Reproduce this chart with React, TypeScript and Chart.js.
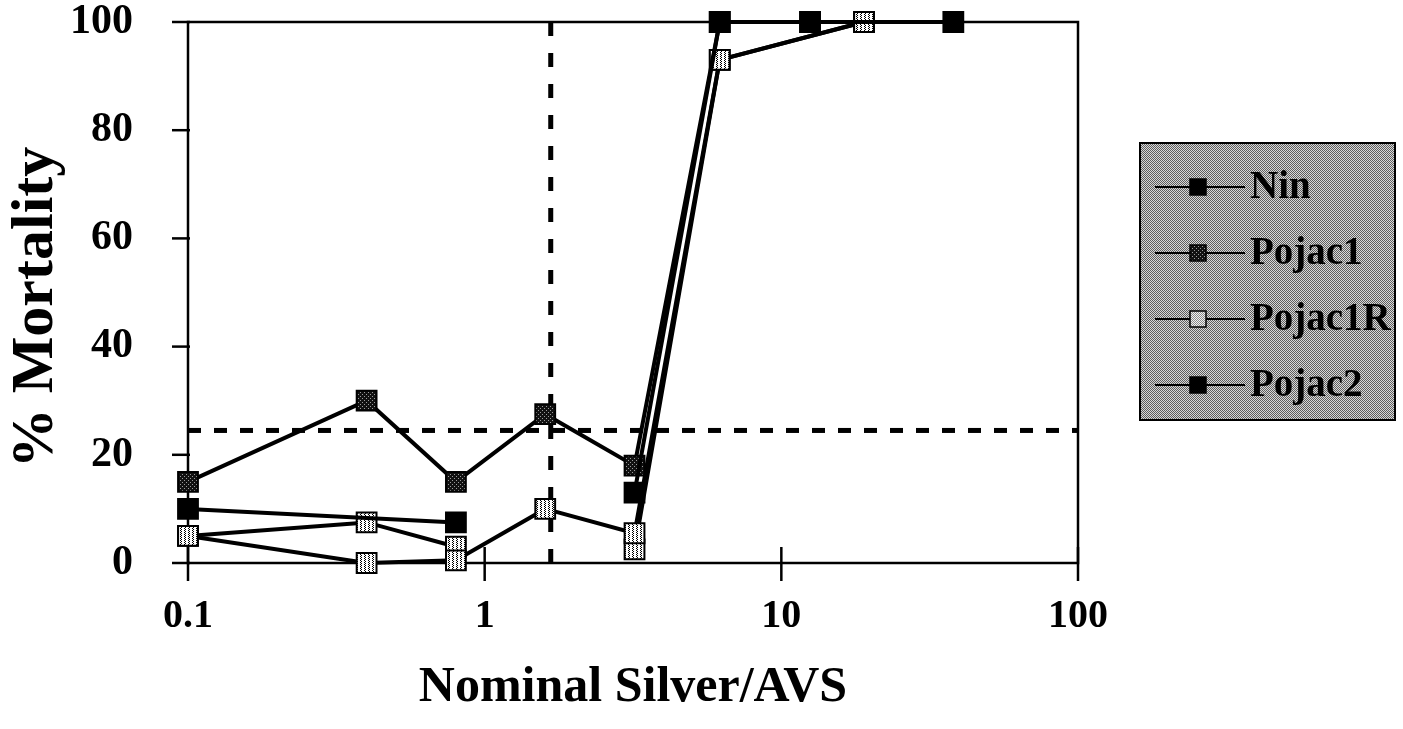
import React, { useEffect, useRef } from 'react';
import { Chart, registerables } from 'chart.js';

Chart.register(...registerables);

// ---- data ----
const seriesNames = ['Nin', 'Pojac1', 'Pojac1R', 'Pojac2'];

const ninConc = [0.1, 0.8, 1.6, 3.2, 6.2, 12.5, 38];
const ninMort = [10, 7.5, null, 13, 100, 100, 100];

const pojac1Conc = [0.1, 0.4, 0.8, 1.6, 3.2, 6.2, 12.5];
const pojac1Mort = [15, 30, 15, 27.5, 18, 100, 100];

const pojac1RConc = [0.1, 0.4, 0.8, 1.6, 3.2, 6.2, 19];
const pojac1RMort = [5, 0, 0.5, 10, 5.5, 93, 100];

const pojac2Conc = [0.1, 0.4, 0.8, 1.6, 3.2, 6.2, 19];
const pojac2Mort = [5, 7.5, 3, null, 2.5, 93, 100];

const thresholdMortality = 24.5; // horizontal dashed line
const thresholdRatio = 1.67; // vertical dashed line

const xTickValues = [0.1, 1, 10, 100];
const xTickLabels = ['0.1', '1', '10', '100'];
const yTickValues = [0, 20, 40, 60, 80, 100];

const xTitle = 'Nominal Silver/AVS';
const yTitle = '% Mortality';

const FONT = '"Liberation Serif", "Times New Roman", serif';

function makePattern(ctx: CanvasRenderingContext2D, bg: string, fg: string, cells: number[][], size: number) {
  const c = document.createElement('canvas');
  c.width = size;
  c.height = size;
  const p = c.getContext('2d')!;
  p.fillStyle = bg;
  p.fillRect(0, 0, size, size);
  p.fillStyle = fg;
  cells.forEach(([x, y]) => p.fillRect(x, y, 1, 1));
  return ctx.createPattern(c, 'repeat')!;
}

export default function App() {
  const ref = useRef<HTMLCanvasElement>(null);

  useEffect(() => {
    const canvas = ref.current!;
    const ctx = canvas.getContext('2d')!;

    const darkPat = makePattern(ctx, '#111', '#9a9a9a', [[0, 0], [2, 2]], 4);
    const lightPat = makePattern(ctx, '#ffffff', '#000', [[0, 0], [2, 0], [1, 1], [3, 1], [0, 2], [2, 2], [1, 3], [3, 3]].filter((_, i) => i % 2 === 0), 4);
    const legendLightPat = makePattern(ctx, '#f2f2f2', '#888', [[0, 0], [1, 1]], 2);
    const legendBgPat = makePattern(ctx, '#d9d9d9', '#5e5e5e', [[0, 0], [1, 1]], 2);

    const markerFill = ['#000', darkPat, lightPat, lightPat];
    const legendFill = ['#000', darkPat, legendLightPat, '#000'];

    const concs = [ninConc, pojac1Conc, pojac1RConc, pojac2Conc];
    const morts = [ninMort, pojac1Mort, pojac1RMort, pojac2Mort];

    const seriesSets = seriesNames.map((name, s) => ({
      label: name,
      data: concs[s].map((x, i) => ({ x, y: morts[s][i] })),
      borderColor: '#000',
      borderWidth: 4,
      pointStyle: 'rect' as const,
      pointRadius: 14,
      pointBackgroundColor: markerFill[s],
      pointBorderColor: '#000',
      pointBorderWidth: 2,
      spanGaps: false,
      clip: false as any,
      order: s,
    }));

    const dashSets = [
      {
        label: 'h-threshold',
        data: [{ x: xTickValues[0], y: thresholdMortality }, { x: xTickValues[xTickValues.length - 1], y: thresholdMortality }],
        borderColor: '#000',
        borderWidth: 5,
        borderDash: [13, 13],
        pointRadius: 0,
        clip: false as any,
        order: 10,
      },
      {
        label: 'v-threshold',
        data: [{ x: thresholdRatio, y: yTickValues[0] }, { x: thresholdRatio, y: yTickValues[yTickValues.length - 1] }],
        borderColor: '#000',
        borderWidth: 5,
        borderDash: [14, 17],
        pointRadius: 0,
        clip: false as any,
        order: 11,
      },
    ];

    const framePlugin = {
      id: 'frame',
      beforeDatasetsDraw(chart: any) {
        const { ctx: c, chartArea: a, scales } = chart;
        c.save();
        c.strokeStyle = '#000';
        c.lineWidth = 2.5;
        c.strokeRect(a.left, a.top, a.right - a.left, a.bottom - a.top);
        xTickValues.forEach((v) => {
          const px = scales.x.getPixelForValue(v);
          c.beginPath();
          c.moveTo(px, a.bottom - 16);
          c.lineTo(px, a.bottom + 18);
          c.stroke();
        });
        yTickValues.forEach((v) => {
          const py = scales.y.getPixelForValue(v);
          c.beginPath();
          c.moveTo(a.left - 16, py);
          c.lineTo(a.left + 2, py);
          c.stroke();
        });
        // y axis title
        c.translate(36, (a.top + a.bottom) / 2 + 15);
        c.rotate(-Math.PI / 2);
        c.fillStyle = '#000';
        c.font = `bold 60px ${FONT}`;
        c.textAlign = 'center';
        c.textBaseline = 'middle';
        c.fillText(yTitle, 0, 0);
        c.restore();
      },
    };

    const legendPlugin = {
      id: 'customLegend',
      afterDraw(chart: any) {
        const c = chart.ctx;
        const lx = 1140, ly = 143, lw = 255, lh = 277;
        c.save();
        c.fillStyle = legendBgPat;
        c.fillRect(lx, ly, lw, lh);
        c.strokeStyle = '#000';
        c.lineWidth = 2;
        c.strokeRect(lx, ly, lw, lh);
        seriesNames.forEach((name, i) => {
          const y = ly + 44 + i * 66;
          c.strokeStyle = '#000';
          c.lineWidth = 2;
          c.beginPath();
          c.moveTo(lx + 15, y);
          c.lineTo(lx + 105, y);
          c.stroke();
          c.fillStyle = legendFill[i];
          c.fillRect(lx + 50, y - 8, 16, 16);
          c.lineWidth = 1.5;
          c.strokeRect(lx + 50, y - 8, 16, 16);
          c.fillStyle = '#000';
          c.font = `bold 39px ${FONT}`;
          c.textBaseline = 'middle';
          c.textAlign = 'left';
          c.fillText(name, lx + 110, y + 1);
        });
        c.restore();
      },
    };

    const chart = new Chart(canvas, {
      type: 'line',
      data: { datasets: [...seriesSets, ...dashSets] as any },
      options: {
        animation: false,
        responsive: false,
        events: [],
        layout: { padding: { top: 22, right: 325, bottom: 0, left: 0 } },
        plugins: {
          legend: { display: false },
          tooltip: { enabled: false },
        },
        scales: {
          x: {
            type: 'logarithmic',
            min: xTickValues[0],
            max: xTickValues[xTickValues.length - 1],
            afterBuildTicks: (s: any) => {
              s.ticks = xTickValues.map((v) => ({ value: v, major: true }));
            },
            afterFit: (s: any) => {
              s.height = 166;
              s.paddingLeft = 0;
              s.paddingRight = 0;
            },
            grid: { display: false },
            border: { display: false },
            ticks: {
              autoSkip: false,
              maxRotation: 0,
              padding: 22,
              color: '#000',
              font: { family: FONT, size: 40, weight: 'bold' },
              callback: (_v: any, i: number) => xTickLabels[i],
            },
            title: {
              display: true,
              text: xTitle,
              color: '#000',
              font: { family: FONT, size: 50, weight: 'bold' },
              padding: { top: 0, bottom: 11 },
            },
          },
          y: {
            type: 'linear',
            min: yTickValues[0],
            max: yTickValues[yTickValues.length - 1],
            afterBuildTicks: (s: any) => {
              s.ticks = yTickValues.map((v) => ({ value: v }));
            },
            afterFit: (s: any) => {
              s.width = 188;
              s.paddingTop = 0;
              s.paddingBottom = 0;
            },
            grid: { display: false },
            border: { display: false },
            ticks: {
              padding: 47,
              color: '#000',
              font: { family: FONT, size: 42, weight: 'bold' },
            },
            title: { display: false },
          },
        },
      },
      plugins: [framePlugin, legendPlugin],
    } as any);

    return () => chart.destroy();
  }, []);

  return (
    <div style={{ position: 'fixed', left: 0, top: 0, width: 1403, height: 729, background: '#fff' }}>
      <canvas ref={ref} width={1403} height={729} style={{ display: 'block' }} />
    </div>
  );
}
